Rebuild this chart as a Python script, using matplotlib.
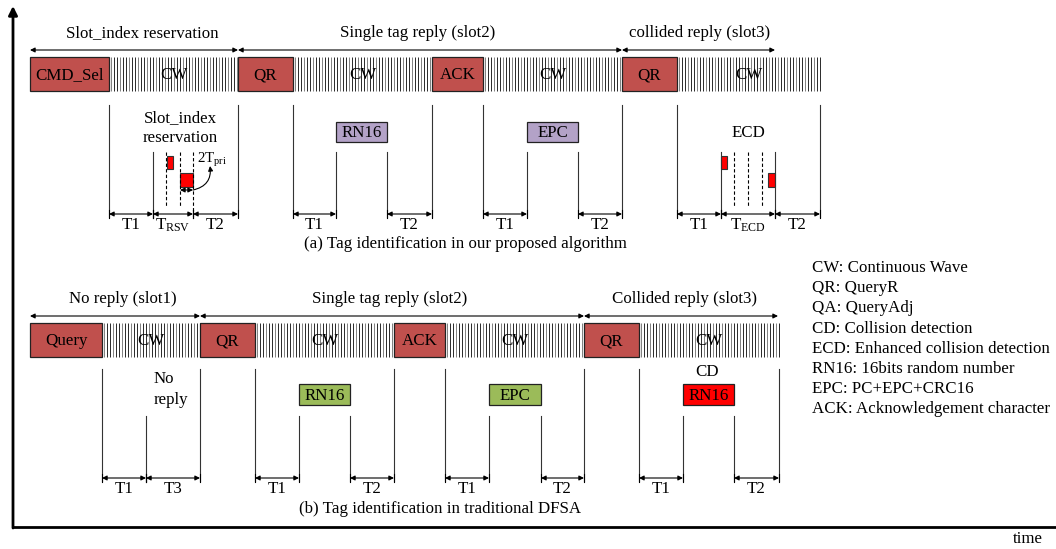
import matplotlib
matplotlib.use("Agg")
import matplotlib.pyplot as plt
from matplotlib.patches import Rectangle
from matplotlib.collections import LineCollection
import numpy as np

plt.rcParams['font.family'] = ['Liberation Serif', 'DejaVu Serif']
plt.rcParams['mathtext.fontset'] = 'custom'
plt.rcParams['mathtext.rm'] = 'Liberation Serif'
plt.rcParams['mathtext.it'] = 'Liberation Serif:italic'

FS = 12.2

# ---------------- data (timeline, in pixel units of the diagram) ----------------
# panel (a): proposed algorithm
a_cmds = [("CMD_Sel", 30, 109), ("QR", 238, 293), ("ACK", 432, 483), ("QR", 622, 677)]
a_cw = [(109, 238), (293, 432), (483, 622), (677, 820)]
a_slots = [("Slot_index reservation", 30, 238, 142),
           ("Single tag reply (slot2)", 238, 622, 418),
           ("collided reply (slot3)", 622, 775, 700)]
a_full_lines = [109, 238, 293, 432, 483, 622, 677, 820]
a_short_lines = [153, 336, 387, 527, 578, 721, 775]
a_dashed = [166, 180, 734, 748, 762]
a_dashed_long = [193]
a_tags = [("RN16", 336, 387), ("EPC", 527, 578)]
a_red = [(167, 156, 6, 13), (180, 173, 13, 14), (721, 156, 6, 13), (768, 173, 7, 14)]
a_dims = [(109, 153, "T1"), (153, 193, r"T$_{\mathregular{RSV}}$"), (193, 238, "T2"),
          (293, 336, "T1"), (387, 432, "T2"), (483, 527, "T1"), (578, 622, "T2"),
          (677, 721, "T1"), (721, 775, r"T$_{\mathregular{ECD}}$"), (775, 820, "T2")]

# panel (b): traditional DFSA
b_cmds = [("Query", 30, 102), ("QR", 200, 255), ("ACK", 394, 445), ("QR", 584, 639)]
b_cw = [(102, 200), (255, 394), (445, 584), (639, 779)]
b_slots = [("No reply (slot1)", 30, 200, 123),
           ("Single tag reply (slot2)", 200, 584, 390),
           ("Collided reply (slot3)", 584, 778, 685)]
b_full_lines = [102, 200, 255, 394, 445, 584, 639, 779]
b_short_lines = [146, 299, 350, 489, 541, 683, 734]
b_tags = [("RN16", 299, 350, '#9BBB59'), ("EPC", 489, 541, '#9BBB59'), ("RN16", 683, 734, '#FF0000')]
b_dims = [(102, 146, "T1"), (146, 200, "T3"), (255, 299, "T1"), (350, 394, "T2"),
          (445, 489, "T1"), (541, 584, "T2"), (639, 683, "T1"), (734, 779, "T2")]

legend_lines = ["CW: Continuous Wave", "QR: QueryR", "QA: QueryAdj", "CD: Collision detection",
                "ECD: Enhanced collision detection", "RN16: 16bits random number",
                "EPC: PC+EPC+CRC16", "ACK: Acknowledgement character"]

CMD_COLOR = '#C0504D'
PURPLE = '#B3A2C7'

fig = plt.figure(figsize=(10.56, 5.49), dpi=100)
ax = fig.add_axes([0, 0, 1, 1])
ax.set_xlim(0, 1056)
ax.set_ylim(549, 0)
ax.axis('off')


def dbl_arrow(x0, x1, y, ticks=False):
    ax.annotate('', xy=(x1, y), xytext=(x0, y),
                arrowprops=dict(arrowstyle='<|-|>', color='black', lw=0.8,
                                mutation_scale=7, shrinkA=0, shrinkB=0))
    if ticks:
        ax.plot([x0, x0], [y - 4, y + 4], color='black', lw=0.8)
        ax.plot([x1, x1], [y - 4, y + 4], color='black', lw=0.8)


def cw(x0, x1, y0, y1):
    xs = np.arange(x0 + 1.5, x1, 3.0)
    segs = [[(x, y0), (x, y1)] for x in xs]
    cols = ['#1a1a1a' if i % 3 else '#777777' for i in range(len(xs))]
    ax.add_collection(LineCollection(segs, colors=cols, linewidths=0.65))
    ax.text((x0 + x1) / 2, (y0 + y1) / 2 + 1, "CW", ha='center', va='center', fontsize=FS)


def panel(cmds, cws, slots, full_lines, short_lines, dims, bar_y, arrow_y, label_y,
          line_top, short_top, line_bot, dim_y, dim_label_y):
    y0, y1 = bar_y
    for (x0, x1) in cws:
        cw(x0, x1, y0, y1)
    for (name, x0, x1) in cmds:
        ax.add_patch(Rectangle((x0, y0), x1 - x0, y1 - y0, facecolor=CMD_COLOR,
                               edgecolor='#222222', lw=0.9))
        ax.text((x0 + x1) / 2, (y0 + y1) / 2 + 1, name, ha='center', va='center', fontsize=FS)
    for (name, x0, x1, xc) in slots:
        dbl_arrow(x0, x1, arrow_y)
        ax.text(xc, label_y, name, ha='center', va='center', fontsize=FS)
    for x in full_lines:
        ax.plot([x, x], [line_top, line_bot], color='#333333', lw=0.8)
    for x in short_lines:
        ax.plot([x, x], [short_top, line_bot], color='#333333', lw=0.8)
    for (x0, x1, lab) in dims:
        dbl_arrow(x0, x1, dim_y, ticks=True)
        ax.text((x0 + x1) / 2, dim_label_y, lab, ha='center', va='center', fontsize=FS)


# axes of the diagram
ax.annotate('', xy=(13, 6), xytext=(13, 528),
            arrowprops=dict(arrowstyle='-|>', color='black', lw=2, mutation_scale=13,
                            shrinkA=0, shrinkB=0))
ax.plot([12, 1056], [527, 527], color='black', lw=2, solid_capstyle='butt')
ax.text(1028, 539, "time", ha='center', va='center', fontsize=FS)

# panel (a)
panel(a_cmds, a_cw, a_slots, a_full_lines, a_short_lines, a_dims,
      (57, 91), 50, 33, 105, 152, 217, 214, 225)
for x in a_dashed:
    ax.plot([x, x], [152, 207], color='black', lw=0.8, ls=(0, (3, 2)))
for x in a_dashed_long:
    ax.plot([x, x], [152, 217], color='black', lw=0.8, ls=(0, (3, 2)))
for (name, x0, x1) in a_tags:
    ax.add_patch(Rectangle((x0, 122), x1 - x0, 20, facecolor=PURPLE, edgecolor='#222222', lw=0.9))
    ax.text((x0 + x1) / 2, 133, name, ha='center', va='center', fontsize=FS)
for (x, y, w, h) in a_red:
    ax.add_patch(Rectangle((x, y), w, h, facecolor='#FF0000', edgecolor='#333333', lw=0.8))
ax.text(180, 118, "Slot_index", ha='center', va='center', fontsize=FS)
ax.text(180, 138, "reservation", ha='center', va='center', fontsize=FS)
ax.text(748, 133, "ECD", ha='center', va='center', fontsize=FS)
# 2Tpri
dbl_arrow(180, 193, 190)
ax.annotate('', xy=(210, 166), xytext=(193, 190),
            arrowprops=dict(arrowstyle='-|>', color='black', lw=0.8, mutation_scale=7,
                            shrinkA=0, shrinkB=0, connectionstyle='arc3,rad=0.45'))
ax.text(197, 160, r"2T$_{\mathregular{pri}}$", ha='left', va='center', fontsize=FS - 1.5)
ax.text(465, 244, "(a) Tag identification in our proposed algorithm", ha='center', va='center', fontsize=FS)

# panel (b)
panel(b_cmds, b_cw, b_slots, b_full_lines, b_short_lines, b_dims,
      (323, 357), 316, 299, 369, 416, 481, 478, 489)
for (name, x0, x1, col) in b_tags:
    ax.add_patch(Rectangle((x0, 384), x1 - x0, 21, facecolor=col, edgecolor='#222222', lw=0.9))
    ax.text((x0 + x1) / 2, 395.5, name, ha='center', va='center', fontsize=FS)
ax.text(154, 379, "No", ha='left', va='center', fontsize=FS)
ax.text(154, 400, "reply", ha='left', va='center', fontsize=FS)
ax.text(707, 372, "CD", ha='center', va='center', fontsize=FS)
ax.text(440, 509, "(b) Tag identification in traditional DFSA", ha='center', va='center', fontsize=FS)

# legend text
for i, line in enumerate(legend_lines):
    ax.text(812, 268 + i * 20.2, line, ha='left', va='center', fontsize=FS)

fig.savefig("out.png", dpi=100)
